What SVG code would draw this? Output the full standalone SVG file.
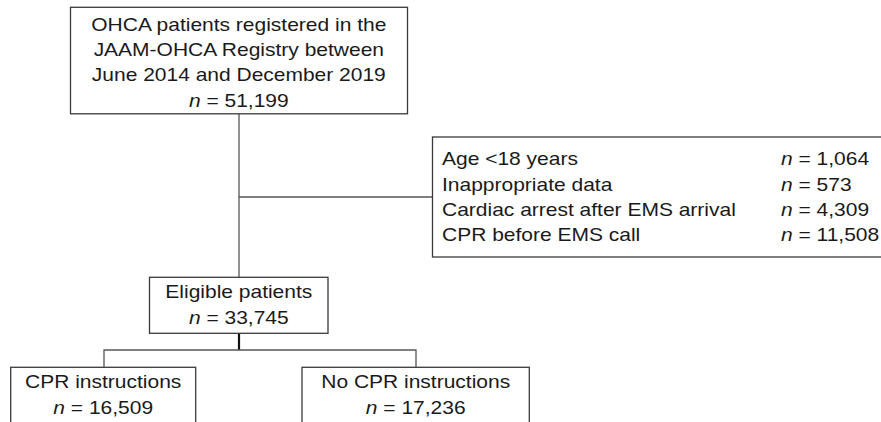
<svg xmlns="http://www.w3.org/2000/svg" width="881" height="422" viewBox="0 0 881 422">
<style>
.box{fill:#fff;stroke:#3a3a3a;stroke-width:1.3}
.ln{fill:none;stroke:#555;stroke-width:1.3}
.thick{fill:none;stroke:#111;stroke-width:2.2}
text{font-family:"Liberation Sans",Arial,sans-serif;font-size:17.5px;fill:#1a1a1a}
.c{text-anchor:middle}
.i{font-style:italic}
</style>
<rect width="881" height="422" fill="#fff"/>
<g id="connectors">
<line class="ln" x1="239" y1="114" x2="239" y2="277"/>
<line class="ln" x1="239" y1="197" x2="432.5" y2="197"/>
<line class="thick" x1="239" y1="333" x2="239" y2="350"/>
<polyline class="ln" points="104,367 104,350 416,350 416,367"/>
</g>
<g id="registered">
<rect class="box" x="70.5" y="7.3" width="337" height="106.5"/>
<g transform="translate(238.8 0) scale(1.2 1)">
<text class="c" x="0" y="30.7">OHCA patients registered in the</text>
<text class="c" x="0" y="56">JAAM-OHCA Registry between</text>
<text class="c" x="0" y="81.5">June 2014 and December 2019</text>
<text class="c" x="0" y="106.7"><tspan class="i">n</tspan> = 51,199</text>
</g>
</g>
<g id="excluded">
<rect class="box" x="432.5" y="137" width="460" height="120"/>
<g transform="translate(442 0) scale(1.2 1)">
<text x="0" y="165.5">Age &lt;18 years</text>
<text x="0" y="191">Inappropriate data</text>
<text x="0" y="216.5">Cardiac arrest after EMS arrival</text>
<text x="0" y="241.5">CPR before EMS call</text>
</g>
<g transform="translate(781 0) scale(1.2 1)">
<text x="0" y="165.5"><tspan class="i">n</tspan> = 1,064</text>
<text x="0" y="191"><tspan class="i">n</tspan> = 573</text>
<text x="0" y="216.5"><tspan class="i">n</tspan> = 4,309</text>
<text x="0" y="241.5"><tspan class="i">n</tspan> = 11,508</text>
</g>
</g>
<g id="eligible">
<rect class="box" x="149.5" y="277.3" width="178.5" height="56"/>
<g transform="translate(238.8 0) scale(1.2 1)">
<text class="c" x="0" y="298.5">Eligible patients</text>
<text class="c" x="0" y="324.5"><tspan class="i">n</tspan> = 33,745</text>
</g>
</g>
<g id="cpr">
<rect class="box" x="10.7" y="367.3" width="185" height="70"/>
<g transform="translate(103.2 0) scale(1.2 1)">
<text class="c" x="0" y="388.3">CPR instructions</text>
<text class="c" x="0" y="414"><tspan class="i">n</tspan> = 16,509</text>
</g>
</g>
<g id="nocpr">
<rect class="box" x="302" y="367.3" width="227.3" height="70"/>
<g transform="translate(415.7 0) scale(1.2 1)">
<text class="c" x="0" y="388.3">No CPR instructions</text>
<text class="c" x="0" y="414"><tspan class="i">n</tspan> = 17,236</text>
</g>
</g>
</svg>
